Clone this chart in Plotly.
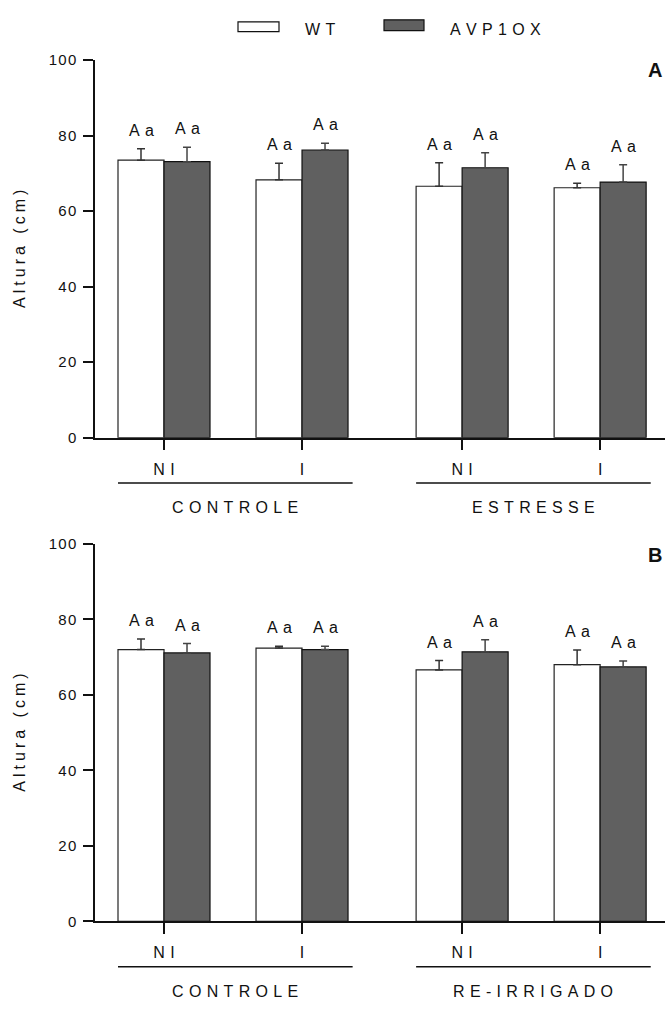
import plotly.graph_objects as go

# ---------------- data ----------------
series_names = ["WT", "AVP1OX"]
treatments = ["NI", "I"]
conditions_A = ["CONTROLE", "ESTRESSE"]
conditions_B = ["CONTROLE", "RE-IRRIGADO"]

wt_A = [73.5, 68.3, 66.6, 66.2]
wt_A_err = [3.0, 4.4, 6.2, 1.2]
avp_A = [73.1, 76.2, 71.5, 67.7]
avp_A_err = [3.8, 1.8, 4.0, 4.6]
letters_wt_A = ["Aa", "Aa", "Aa", "Aa"]
letters_avp_A = ["Aa", "Aa", "Aa", "Aa"]

wt_B = [72.0, 72.4, 66.6, 68.0]
wt_B_err = [2.8, 0.5, 2.5, 3.9]
avp_B = [71.1, 72.0, 71.4, 67.4]
avp_B_err = [2.5, 0.9, 3.2, 1.6]
letters_wt_B = ["Aa", "Aa", "Aa", "Aa"]
letters_avp_B = ["Aa", "Aa", "Aa", "Aa"]

y_ticks = [0, 20, 40, 60, 80, 100]
y_title = "Altura (cm)"
panel_labels = ["A", "B"]

# ---------------- style ----------------
FONT = "Liberation Sans, Arial, sans-serif"
W, H = 665, 1012
WT_FILL = "#ffffff"
AVP_FILL = "#606060"
TXT = "#111111"
SP3 = "\u2004"   # three-per-em space
SP4 = "\u2005"   # four-per-em space
HAIR = "\u200a"  # hair space
FS = 16


def spaced(s, sep):
    return sep.join(list(s))


GAP = 0.48
positions = [c * (6 + GAP) + t * 3 for c in range(2) for t in range(2)]

x_dom = [95 / W, 1.0]
yA_dom = [1 - 436 / H, 1 - 52 / H]
yB_dom = [1 - 928 / H, 1 - 544 / H]

fig = go.Figure()

panels = [
    dict(wt=wt_A, wte=wt_A_err, avp=avp_A, avpe=avp_A_err, lw=letters_wt_A, la=letters_avp_A,
         cond=conditions_A, xa="x", ya="y", label=panel_labels[0], ylab_y=62),
    dict(wt=wt_B, wte=wt_B_err, avp=avp_B, avpe=avp_B_err, lw=letters_wt_B, la=letters_avp_B,
         cond=conditions_B, xa="x2", ya="y2", label=panel_labels[1], ylab_y=555),
]

annotations = []
shapes = []

for p in panels:
    wt_x = [x - 0.5 for x in positions]
    avp_x = [x + 0.5 for x in positions]
    fig.add_trace(go.Bar(
        x=wt_x, y=p["wt"], width=1, xaxis=p["xa"], yaxis=p["ya"], name=series_names[0],
        marker=dict(color=WT_FILL, line=dict(color="#222222", width=1.2)),
        error_y=dict(type="data", array=p["wte"], arrayminus=[0] * 4, symmetric=False,
                     width=4, thickness=1.5, color="#333333"),
        showlegend=False,
    ))
    fig.add_trace(go.Bar(
        x=avp_x, y=p["avp"], width=1, xaxis=p["xa"], yaxis=p["ya"], name=series_names[1],
        marker=dict(color=AVP_FILL, line=dict(color="#111111", width=1.2)),
        error_y=dict(type="data", array=p["avpe"], arrayminus=[0] * 4, symmetric=False,
                     width=4, thickness=1.5, color="#444444"),
        showlegend=False,
    ))
    # significance letters
    for xs, vals, errs, labs in ((wt_x, p["wt"], p["wte"], p["lw"]), (avp_x, p["avp"], p["avpe"], p["la"])):
        for x, v, e, l in zip(xs, vals, errs, labs):
            annotations.append(dict(
                x=x, y=v + e, xref=p["xa"], yref=p["ya"], text=spaced(l, SP3),
                showarrow=False, yanchor="bottom", yshift=8,
                font=dict(family=FONT, size=FS, color=TXT),
            ))
    # group underlines and labels
    dom = p["ya"] + " domain"
    for ci, cname in enumerate(p["cond"]):
        x0 = positions[ci * 2] - 1.0
        x1 = positions[ci * 2 + 1] + 1.1
        shapes.append(dict(type="line", xref=p["xa"], yref=dom, x0=x0, x1=x1, y0=-0.12, y1=-0.12,
                           line=dict(color=TXT, width=1.5)))
        annotations.append(dict(
            x=(x0 + x1) / 2, y=-0.185, xref=p["xa"], yref=dom, text=spaced(cname, SP3),
            showarrow=False, yanchor="middle", xanchor="center",
            font=dict(family=FONT, size=FS, color=TXT),
        ))
    # panel letter
    annotations.append(dict(
        x=646 / W, y=1 - p["ylab_y"] / H, xref="paper", yref="paper", text="<b>%s</b>" % p["label"],
        showarrow=False, xanchor="left", yanchor="middle",
        font=dict(family=FONT, size=20, color=TXT),
    ))
    # y title
    annotations.append(dict(
        x=20 / W, y=0.5, xref="paper", yref=dom, text=spaced(y_title, SP4), textangle=-90,
        showarrow=False, xanchor="center", yanchor="middle",
        font=dict(family=FONT, size=FS, color=TXT),
    ))

axis_common_x = dict(
    range=[-1.5, 10.89], domain=x_dom, showline=True, linecolor=TXT, linewidth=1.5,
    ticks="outside", ticklen=11, tickwidth=1.5, tickcolor=TXT, showgrid=False, zeroline=False,
    tickvals=positions, ticktext=[spaced(t, SP3) for t in treatments] * 2,
    tickfont=dict(family=FONT, size=FS, color=TXT), ticklabelstandoff=5,
)
axis_common_y = dict(
    range=[0, 100], showline=True, linecolor=TXT, linewidth=1.5,
    ticks="outside", ticklen=10, tickwidth=1.5, tickcolor=TXT, showgrid=False, zeroline=False,
    tickvals=y_ticks, ticktext=[spaced(str(t), HAIR) for t in y_ticks],
    tickfont=dict(family=FONT, size=FS - 1, color=TXT), ticklabelstandoff=4,
)

fig.update_layout(
    width=W, height=H, autosize=False,
    margin=dict(l=0, r=0, t=0, b=0),
    paper_bgcolor="white", plot_bgcolor="white",
    barmode="overlay", showlegend=False,
    xaxis=dict(axis_common_x, anchor="y"),
    yaxis=dict(axis_common_y, domain=yA_dom, anchor="x"),
    xaxis2=dict(axis_common_x, anchor="y2"),
    yaxis2=dict(axis_common_y, domain=yB_dom, anchor="x2"),
)

# manual legend
legend_items = [
    (series_names[0], WT_FILL, 238, 279, 13, 23, 303),
    (series_names[1], AVP_FILL, 384, 424, 11, 22, 448),
]
for name, fill, x0, x1, y0, y1, tx in legend_items:
    shapes.append(dict(type="rect", xref="paper", yref="paper",
                       x0=x0 / W, x1=x1 / W, y0=1 - y1 / H, y1=1 - y0 / H,
                       fillcolor=fill, line=dict(color=TXT, width=1.2)))
    annotations.append(dict(
        x=tx / W, y=1 - 21 / H, xref="paper", yref="paper", text=spaced(name, SP3),
        showarrow=False, xanchor="left", yanchor="middle",
        font=dict(family=FONT, size=FS, color=TXT),
    ))

fig.update_layout(annotations=annotations, shapes=shapes)
fig.write_html("out.html", config={"displayModeBar": False})
